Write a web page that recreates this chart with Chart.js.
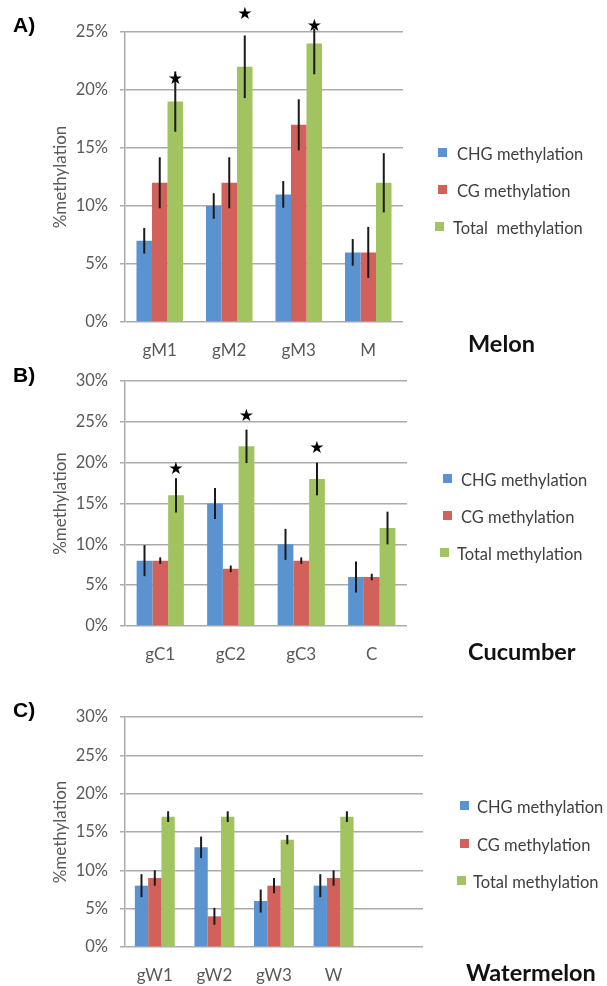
<!DOCTYPE html>
<html>
<head>
<meta charset="utf-8">
<script src="https://cdn.jsdelivr.net/npm/chart.js@4.4.1/dist/chart.umd.min.js"></script>
<style>
  body { margin: 0; background: #fff; width: 607px; height: 986px; position: relative; overflow: hidden; font-family: Lato, sans-serif; }
  canvas { position: absolute; left: 0; }
  .txt { position: absolute; white-space: pre; }
  .letter { font-family: "Liberation Sans", Arial, sans-serif; font-weight: bold; font-size: 21px; line-height: 21px; color: #000; }
  .crop { font-weight: bold; font-size: 23.5px; line-height: 23.5px; color: #111; }
  .leg { font-size: 16.5px; line-height: 22px; color: #404040; }
  .sw { position: absolute; width: 9px; height: 9px; }
</style>
</head>
<body>
<canvas id="chartA"></canvas>
<canvas id="chartB"></canvas>
<canvas id="chartC"></canvas>
<div id="overlay"></div>
<script>
// series
const seriesColors = ['#5A93D0', '#D2605B', '#A1C460'];
const melonLegend = ['CHG methylation', 'CG methylation', 'Total  methylation'];
const seriesNames = ['CHG methylation', 'CG methylation', 'Total methylation'];

// A) Melon
const melonLabels = ['gM1', 'gM2', 'gM3', 'M'];
const melonCHG = [7, 10, 11, 6];
const melonCG = [12, 12, 17, 6];
const melonTotal = [19, 22, 24, 12];
const melonCHGErr = [1.1, 1.1, 1.15, 1.15];
const melonCGErr = [2.2, 2.2, 2.2, 2.2];
const melonTotalErr = [2.6, 2.7, 2.65, 2.55];
const melonStars = [20.9, 26.5, 25.5, null];

// B) Cucumber
const cucumberLabels = ['gC1', 'gC2', 'gC3', 'C'];
const cucumberCHG = [8, 15, 10, 6];
const cucumberCG = [8, 7, 8, 6];
const cucumberTotal = [16, 22, 18, 12];
const cucumberCHGErr = [1.9, 1.9, 1.9, 1.9];
const cucumberCGErr = [0.4, 0.4, 0.4, 0.4];
const cucumberTotalErr = [2.1, 2.05, 2, 2];
const cucumberStars = [19.1, 25.6, 21.7, null];

// C) Watermelon (last slot is empty in the original)
const watermelonLabels = ['gW1', 'gW2', 'gW3', 'W', ''];
const watermelonCHG = [8, 13, 6, 8];
const watermelonCG = [9, 4, 8, 9];
const watermelonTotal = [17, 17, 14, 17];
const watermelonCHGErr = [1.5, 1.4, 1.5, 1.5];
const watermelonCGErr = [1, 1.1, 1, 1];
const watermelonTotalErr = [0.7, 0.7, 0.6, 0.7];
const watermelonStars = [];

const errorBars = {
  id: 'errorBars',
  afterDatasetsDraw(chart, args, opts) {
    const { ctx, chartArea, scales: { y } } = chart;
    ctx.save();
    ctx.strokeStyle = '#1a1a1a';
    ctx.lineWidth = 2;
    chart.data.datasets.forEach((ds, i) => {
      chart.getDatasetMeta(i).data.forEach((bar, j) => {
        const v = ds.data[j], e = ds.errors[j];
        if (v == null || e == null) return;
        const top = Math.max(y.getPixelForValue(v + e), chartArea.top - 3);
        const bot = y.getPixelForValue(v - e);
        ctx.beginPath();
        ctx.moveTo(bar.x, top);
        ctx.lineTo(bar.x, bot);
        ctx.stroke();
      });
    });
    const totals = chart.getDatasetMeta(2).data;
    ctx.fillStyle = '#000';
    ctx.font = '17px "DejaVu Sans"';
    ctx.textAlign = 'center';
    ctx.textBaseline = 'middle';
    (opts.stars || []).forEach((s, j) => {
      if (s == null) return;
      ctx.fillText('★', totals[j].x, y.getPixelForValue(s));
    });
    ctx.restore();
  }
};

function makePanel(id, top, height, padTop, right, labels, values, errors, stars, yMax) {
  const el = document.getElementById(id);
  el.width = 607; el.height = height;
  el.style.top = top + 'px';
  el.style.width = '607px'; el.style.height = height + 'px';
  new Chart(el, {
    type: 'bar',
    data: {
      labels,
      datasets: values.map((vals, i) => ({
        label: seriesNames[i],
        data: vals,
        errors: errors[i],
        backgroundColor: seriesColors[i],
        borderWidth: 0,
        categoryPercentage: 0.67,
        barPercentage: 1
      }))
    },
    options: {
      responsive: false,
      animation: false,
      layout: { padding: { left: 50, right: 607 - right, top: padTop, bottom: 0 } },
      plugins: {
        legend: { display: false },
        tooltip: { enabled: false },
        errorBars: { stars }
      },
      scales: {
        x: {
          afterFit: s => { s.height = 44; },
          grid: { display: false },
          border: { display: false },
          ticks: { color: '#595959', font: { family: 'Lato', size: 17 }, padding: 10 }
        },
        y: {
          min: 0, max: yMax,
          afterFit: s => { s.width = 75; },
          grid: { color: '#ABABAB', lineWidth: 1.5, tickLength: 5 },
          border: { display: true, color: '#ABABAB', width: 1.5 },
          ticks: {
            stepSize: 5, padding: 12, color: '#595959',
            font: { family: 'Lato', size: 16.5 },
            callback: v => v + '%'
          },
          title: {
            display: true, text: '%methylation', color: '#595959',
            font: { family: 'Lato', size: 17 }, padding: { top: 0, bottom: 0 }
          }
        }
      }
    },
    plugins: [errorBars]
  });
}

makePanel('chartA', 0, 366, 32, 403, melonLabels,
  [melonCHG, melonCG, melonTotal], [melonCHGErr, melonCGErr, melonTotalErr], melonStars, 25);
makePanel('chartB', 358, 312, 23, 407, cucumberLabels,
  [cucumberCHG, cucumberCG, cucumberTotal], [cucumberCHGErr, cucumberCGErr, cucumberTotalErr], cucumberStars, 30);
makePanel('chartC', 662, 329, 55, 423, watermelonLabels,
  [watermelonCHG, watermelonCG, watermelonTotal], [watermelonCHGErr, watermelonCGErr, watermelonTotalErr], watermelonStars, 30);

// text overlays: panel letters, crop names, legends
const overlay = document.getElementById('overlay');
function addText(cls, text, left, top) {
  const d = document.createElement('div');
  d.className = 'txt ' + cls;
  d.textContent = text;
  d.style.left = left + 'px';
  d.style.top = top + 'px';
  overlay.appendChild(d);
}
addText('letter', 'A)', 13, 14);
addText('letter', 'B)', 13, 364);
addText('letter', 'C)', 13, 699);
addText('crop', 'Melon', 468, 332);
addText('crop', 'Cucumber', 468, 640);
addText('crop', 'Watermelon', 466, 961);

function addLegend(names, swX, textX, rows) {
  names.forEach((n, i) => {
    const sw = document.createElement('div');
    sw.className = 'sw';
    sw.style.background = seriesColors[i];
    sw.style.left = (i === 2 ? swX - 3 : swX) + 'px';
    sw.style.top = (rows[i] - 7) + 'px';
    overlay.appendChild(sw);
    addText('leg', n, i === 2 ? textX - 4 : textX, rows[i] - 12);
  });
}
addLegend(melonLegend, 438, 457, [155, 192, 229]);
addLegend(seriesNames, 443, 461, [481, 518, 555]);
addLegend(seriesNames, 460, 477, [808, 846, 883]);
</script>
</body>
</html>
